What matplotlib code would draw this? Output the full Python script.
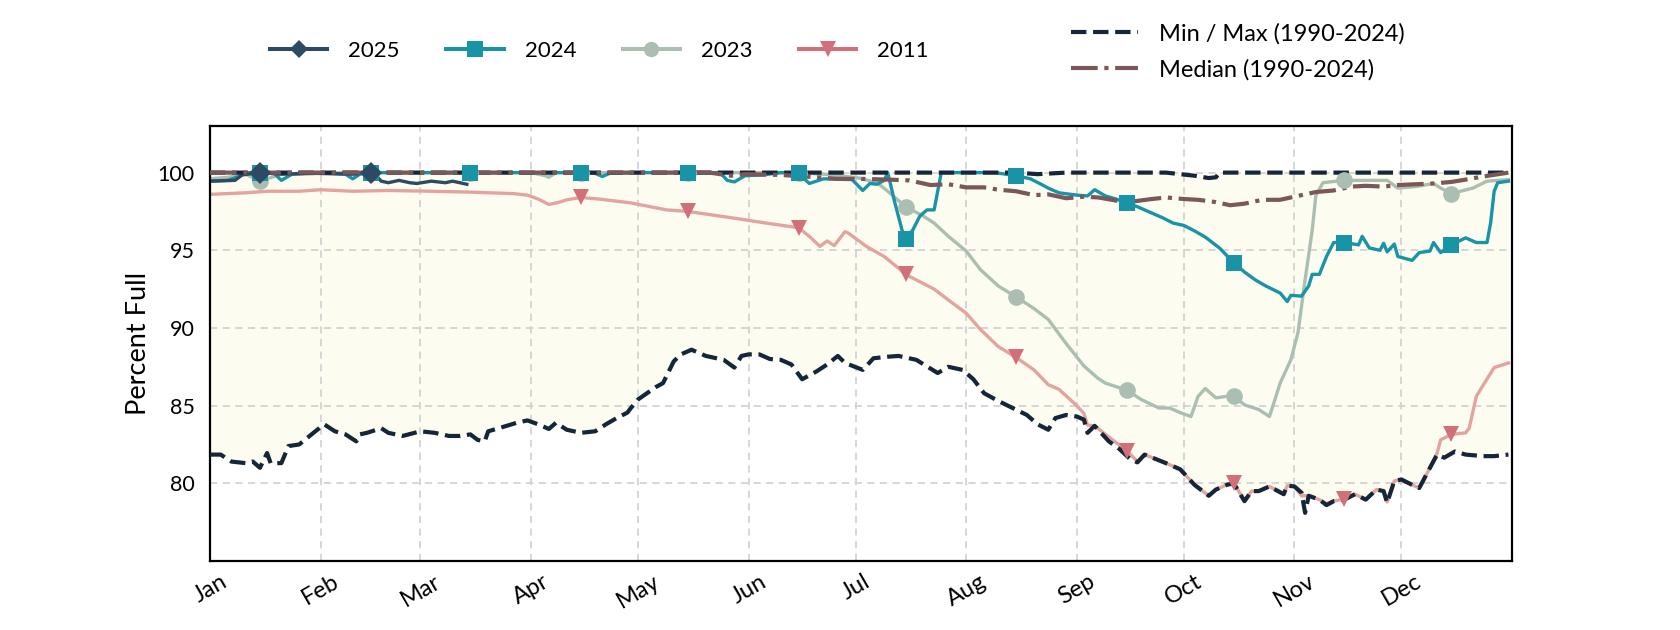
import numpy as np
import matplotlib
matplotlib.use("Agg")
import matplotlib.pyplot as plt
from matplotlib.lines import Line2D


# ============================================================
# DATA  (x = days since Jan 1, values = percent full)
# ============================================================

month_names = ["Jan", "Feb", "Mar", "Apr", "May", "Jun",
               "Jul", "Aug", "Sep", "Oct", "Nov", "Dec"]
month_lengths = [31, 28, 31, 30, 31, 30, 31, 31, 30, 31, 30, 31]

# markers sit on the 15th of each month
marker_days = [14, 45, 73, 104, 134, 165, 195, 226, 257, 287, 318, 348]

max_days = [0, 226, 229, 232, 236, 240, 268, 272, 276, 280, 282, 283, 364]
max_vals = [100, 100, 99.95, 99.9, 99.95, 100, 100, 99.9, 99.8, 99.65, 99.7, 100, 100]

min_days = [0, 3, 6, 10, 12, 14, 16, 17, 20, 22, 25, 29, 32, 35, 38, 41, 42, 44,
            48, 50, 54, 59, 63, 67, 70, 73, 75, 77, 78, 81, 86, 89, 92, 95, 97,
            100, 104, 108, 111, 114, 117, 118, 120, 125, 127, 130, 132, 135, 139,
            144, 147, 149, 151, 154, 157, 160, 163, 166, 170, 173, 176, 178, 183,
            186, 190, 193, 198, 204, 207, 211, 214, 217, 221, 225, 229, 232, 235,
            237, 240, 243, 245, 246, 248, 252, 255, 258, 260, 262, 268, 272, 276,
            280, 282, 285, 287, 290, 292, 294, 297, 301, 302, 304, 306, 307, 308,
            311, 313, 315, 318, 321, 324, 327, 329, 330, 332, 334, 337, 339, 342,
            344, 346, 349, 352, 357, 360, 364]
min_vals = [81.85, 81.85, 81.4, 81.3, 81.4, 81.0, 81.95, 81.3, 81.3, 82.4, 82.5,
            83.25, 83.8, 83.35, 83.15, 82.7, 83.15, 83.25, 83.55, 83.25, 83.05,
            83.35, 83.25, 83.05, 83.05, 83.15, 82.8, 82.7, 83.35, 83.55, 83.9,
            84.05, 83.8, 83.5, 83.9, 83.45, 83.25, 83.35, 83.8, 84.2, 84.55, 84.85,
            85.4, 86.2, 86.45, 87.85, 88.3, 88.6, 88.2, 87.95, 87.45, 88.2, 88.3,
            88.3, 88.0, 87.95, 87.65, 86.7, 87.2, 87.65, 88.2, 87.75, 87.3, 88.05,
            88.15, 88.2, 87.95, 87.1, 87.5, 87.3, 86.7, 85.8, 85.3, 84.85, 84.4,
            83.8, 83.45, 84.2, 84.4, 84.3, 84.1, 83.25, 83.7, 82.7, 82.2, 81.55,
            81.35, 81.85, 81.3, 80.9, 79.9, 79.2, 79.6, 79.9, 80.0, 78.85, 79.5,
            79.5, 79.8, 79.3, 79.85, 79.8, 79.4, 78.1, 79.2, 78.95, 78.6, 78.85,
            78.95, 79.3, 78.95, 79.6, 79.5, 78.75, 80.15, 80.25, 79.9, 79.7, 81.0,
            81.85, 81.65, 82.05, 81.85, 81.75, 81.75, 81.85]

median_days = [0, 100, 140, 146, 150, 160, 170, 176, 182, 190, 196, 202, 207, 212,
               217, 221, 226, 231, 235, 240, 245, 249, 254, 259, 264, 268, 273, 277,
               282, 286, 290, 295, 300, 305, 310, 315, 320, 324, 329, 333, 338, 343,
               348, 352, 357, 364]
median_vals = [100, 100, 100, 99.8, 99.9, 99.85, 99.7, 99.6, 99.6, 99.55, 99.5,
               99.2, 99.25, 99.05, 99.05, 98.9, 98.8, 98.55, 98.6, 98.35, 98.45,
               98.4, 98.2, 98.15, 98.3, 98.4, 98.3, 98.25, 98.1, 97.9, 98.0, 98.25,
               98.25, 98.5, 98.75, 98.85, 99.1, 99.15, 99.1, 99.2, 99.25, 99.3,
               99.4, 99.55, 99.75, 100]

y2025_days = [0, 7, 9, 14, 20, 30, 40, 45, 47, 48, 50, 53, 56, 58, 62, 66, 68, 72]
y2025_vals = [99.45, 99.5, 99.85, 100, 99.9, 99.95, 99.9, 100, 99.7, 99.45, 99.35,
              99.5, 99.35, 99.3, 99.45, 99.35, 99.45, 99.25]

y2024_days = [0, 5, 8, 10, 14, 18, 20, 23, 30, 38, 40, 42, 45, 50, 60, 73, 90, 104,
              108, 110, 112, 120, 134, 143, 145, 147, 150, 155, 160, 165, 168, 172,
              180, 183, 185, 187, 189, 190, 192, 194, 195, 197, 199, 201, 203, 205,
              212, 220, 226, 230, 233, 235, 238, 243, 246, 248, 251, 254, 257, 260,
              263, 267, 270, 273, 276, 279, 283, 287, 290, 293, 296, 300, 302, 303,
              306, 308, 309, 311, 313, 315, 318, 322, 323, 325, 328, 329, 330, 332,
              333, 337, 339, 342, 343, 345, 348, 352, 355, 358, 359, 360, 361, 364]
y2024_vals = [99.45, 99.5, 99.75, 100, 100, 99.95, 99.5, 99.9, 100, 99.9, 99.6,
              99.9, 100, 100, 100, 100, 100, 100, 99.95, 99.75, 99.95, 100, 100,
              100, 99.5, 99.4, 99.8, 99.85, 100, 99.95, 99.3, 99.6, 99.55, 98.85,
              99.3, 99.25, 99.5, 100, 98.05, 96.3, 95.7, 96.3, 97.2, 97.6, 97.6,
              100, 100, 100, 99.8, 99.6, 99.25, 99.0, 98.7, 98.55, 98.5, 98.9, 98.5,
              98.3, 98.05, 97.8, 97.5, 97.1, 96.75, 96.6, 96.25, 95.85, 95.15, 94.2,
              93.6, 93.1, 92.7, 92.25, 91.7, 92.1, 92.05, 92.7, 93.45, 93.45, 94.6,
              95.5, 95.5, 95.35, 95.9, 95.15, 95.0, 95.45, 94.9, 95.4, 94.6, 94.35,
              94.85, 94.95, 95.5, 94.85, 95.35, 95.8, 95.5, 95.5, 96.75, 98.8,
              99.35, 99.45]

y2023_days = [0, 5, 10, 14, 20, 30, 45, 60, 73, 90, 94, 95, 97, 104, 134, 165, 175,
              182, 187, 190, 195, 200, 203, 207, 212, 216, 221, 226, 231, 235, 240,
              245, 249, 251, 257, 261, 266, 269, 272, 275, 277, 279, 282, 285, 287,
              290, 294, 297, 298, 300, 303, 305, 307, 309, 310, 312, 318, 324, 330,
              333, 338, 343, 345, 348, 354, 358, 364]
y2023_vals = [99.6, 99.7, 99.9, 99.45, 99.9, 100, 100, 100, 100, 100, 99.8, 99.7,
              100, 100, 100, 100, 99.85, 99.65, 99.35, 98.8, 97.8, 97.2, 96.75,
              95.9, 94.95, 93.75, 92.7, 92.0, 91.25, 90.55, 89.0, 87.55, 86.75,
              86.45, 86.0, 85.4, 84.85, 84.85, 84.55, 84.3, 85.6, 86.1, 85.5, 85.6,
              85.65, 85.05, 84.75, 84.3, 85.0, 86.45, 87.95, 89.7, 93.1, 96.3, 98.5,
              99.35, 99.5, 99.5, 99.5, 99.0, 99.1, 99.3, 99.0, 98.65, 99.0, 99.45,
              99.55]

y2011_days = [0, 10, 16, 25, 31, 40, 50, 62, 72, 85, 89, 92, 95, 98, 100, 104, 109,
              118, 128, 134, 146, 156, 165, 168, 171, 173, 175, 178, 179, 184, 189,
              193, 195, 203, 207, 212, 216, 221, 226, 231, 235, 238, 243, 245, 246,
              248, 253, 257, 260, 262, 268, 272, 276, 280, 282, 285, 287, 290, 292,
              294, 297, 301, 302, 304, 306, 308, 311, 313, 315, 318, 321, 324, 327,
              329, 330, 332, 334, 337, 339, 342, 344, 345, 348, 352, 353, 355, 357,
              360, 364]
y2011_vals = [98.6, 98.7, 98.8, 98.8, 98.9, 98.8, 98.85, 98.8, 98.75, 98.65, 98.55,
              98.3, 97.95, 98.1, 98.25, 98.4, 98.3, 98.05, 97.6, 97.5, 97.1, 96.75,
              96.45, 95.9, 95.25, 95.6, 95.3, 96.2, 96.1, 95.25, 94.6, 93.85, 93.45,
              92.5, 91.8, 90.95, 89.9, 88.8, 88.1, 87.3, 86.35, 86.05, 85.0, 84.5,
              83.75, 83.7, 82.8, 82.1, 81.4, 81.85, 81.3, 80.9, 79.9, 79.2, 79.6,
              79.9, 80.0, 78.9, 79.5, 79.5, 79.8, 79.3, 79.85, 79.8, 79.2, 79.2,
              78.95, 78.7, 78.85, 79.0, 79.3, 78.95, 79.6, 79.5, 78.8, 80.15, 80.25,
              79.9, 79.7, 81.0, 81.95, 82.8, 83.15, 83.25, 83.55, 85.6, 86.35, 87.45,
              87.75]


# ============================================================
# STYLE
# ============================================================

plt.rcParams["font.family"] = ["Lato", "DejaVu Sans"]
plt.rcParams["font.size"] = 15

C_MINMAX = "#142638"
C_MEDIAN = "#7a5759"
C_FILL = "#fcfcf1"

series = [
    # label, days, vals, line colour, marker colour, marker, size
    ("2011", y2011_days, y2011_vals, "#e3a49f", "#d2707a", "v", 12),
    ("2023", y2023_days, y2023_vals, "#aabfb2", "#aabfb2", "o", 12),
    ("2024", y2024_days, y2024_vals, "#1993a6", "#1993a6", "s", 12),
    ("2025", y2025_days, y2025_vals, "#2d4a63", "#2d4a63", "D", 11.5),
]


# ============================================================
# PLOT
# ============================================================

fig = plt.figure(figsize=(16.8, 6.3), dpi=100)
ax = fig.add_axes([0.125, 0.1095, 0.775, 0.6905])

# shaded band between historical min and max
band_x = np.concatenate([max_days, min_days[::-1]])
band_y = np.concatenate([max_vals, min_vals[::-1]])
ax.fill(band_x, band_y, color=C_FILL, lw=0, zorder=0)

for label, d, v, lc, mc, mk, ms in series:
    d = np.array(d)
    v = np.array(v)
    ax.plot(d, v, color=lc, lw=2.4, zorder=2)
    idx = np.isin(d, marker_days)
    ax.plot(d[idx], v[idx], ls="none", marker=mk, ms=ms, color=mc,
            markeredgewidth=0, zorder=5)

ax.plot(max_days, max_vals, color=C_MINMAX, lw=3, ls="--", zorder=3)
ax.plot(min_days, min_vals, color=C_MINMAX, lw=3, ls="--", zorder=3)
ax.plot(median_days, median_vals, color=C_MEDIAN, lw=3, ls="-.", zorder=4)

month_starts = np.concatenate([[0], np.cumsum(month_lengths)[:-1]])
ax.set_xticks(month_starts)
ax.set_xticklabels(month_names, rotation=30, ha="center", fontsize=17)
ax.set_xlim(0, 365)
ax.set_ylim(75, 103)
ax.set_yticks([80, 85, 90, 95, 100])

ax.tick_params(length=0)
ax.tick_params(axis="y", pad=11, labelsize=15.5)
ax.tick_params(axis="x", pad=7)
ax.grid(True, color="#d3d3d3", ls=(0, (4, 3)), lw=1.3, zorder=1)
ax.set_axisbelow(True)
for s in ax.spines.values():
    s.set_linewidth(1.6)
    s.set_color("black")

ax.set_ylabel("Percent Full", fontsize=19.5, labelpad=5)

# legends
year_handles = []
for label, d, v, lc, mc, mk, ms in reversed(series):
    hms = 9.5 if mk == "D" else 11
    year_handles.append(Line2D([], [], color=mc, lw=2.9, marker=mk, ms=hms,
                               markeredgewidth=0, label=label))
fig.legend(handles=year_handles, loc="center left",
           bbox_to_anchor=(259 / 1680, 0.919), ncol=4, frameon=False,
           borderpad=0, fontsize=16, handlelength=2.57, handletextpad=0.95,
           columnspacing=2.1)

hist_handles = [
    Line2D([], [], color=C_MINMAX, lw=3, ls="--", label="Min / Max (1990-2024)"),
    Line2D([], [], color=C_MEDIAN, lw=3, ls="-.", label="Median (1990-2024)"),
]
fig.legend(handles=hist_handles, loc="center left",
           bbox_to_anchor=(1059 / 1680, 0.918), ncol=1, frameon=False,
           borderpad=0, fontsize=17, handlelength=2.85, handletextpad=0.9,
           labelspacing=0.6)

fig.savefig("out.png", dpi=100)
